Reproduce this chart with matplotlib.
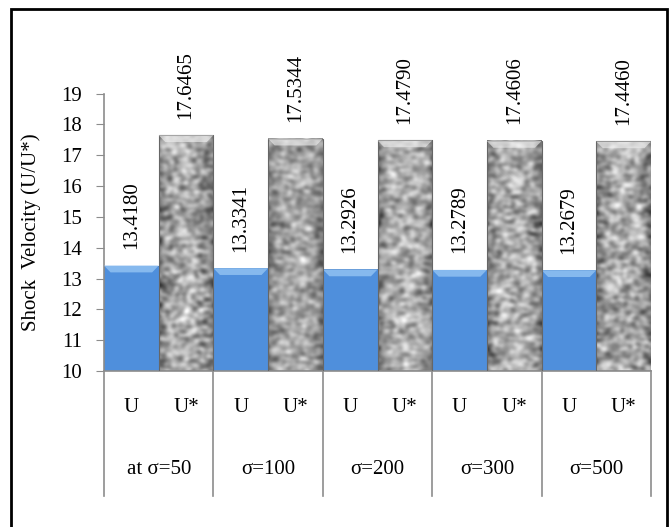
import numpy as np
import matplotlib
matplotlib.use("Agg")
import matplotlib.pyplot as plt
from matplotlib.patches import Rectangle, Polygon
from matplotlib.transforms import blended_transform_factory

plt.rcParams['font.family'] = ['Liberation Serif', 'DejaVu Serif']

# data
groups = ["at σ=50", "σ=100", "σ=200", "σ=300", "σ=500"]
series = ["U", "U*"]
u_vals = [13.4180, 13.3341, 13.2926, 13.2789, 13.2679]
ustar_vals = [17.6465, 17.5344, 17.4790, 17.4606, 17.4460]
y_ticks = [10, 11, 12, 13, 14, 15, 16, 17, 18, 19]

BLUE = "#4f8fdc"
BLUE_TOP = "#86b9ee"
GRID = "#8c8c8c"
FS = 15


def stone_texture(h, w, seed):
    # grey mottled look for the U* bars (decoration only)
    rng = np.random.default_rng(seed)
    t = rng.random((h, w))
    for _ in range(4):
        t = (t + np.roll(t, 1, 0) + np.roll(t, -1, 0) + np.roll(t, 1, 1) + np.roll(t, -1, 1)) / 5
    t = (t - t.min()) / (t.max() - t.min())
    # darker towards the left/right edges
    edge = np.linspace(-1, 1, w)
    t = t - 0.35 * np.abs(edge) ** 4
    return t


fig = plt.figure(figsize=(6.7, 5.27), dpi=100)
ax = fig.add_axes([104 / 670, 156 / 527, 547 / 670, 277.5 / 527])

x = np.arange(len(groups))
w = 0.5
ax.bar(x - w / 2, [v - 10 for v in u_vals], width=w, bottom=10, color=BLUE,
       edgecolor="#3f78bd", linewidth=0.6, zorder=2)

# bevel on top of the blue bars
for xi, v in zip(x, u_vals):
    x0, x1 = xi - w, xi
    bev = 0.22
    ax.add_patch(Polygon([[x0, v], [x1, v], [x1 - 0.06, v - bev], [x0 + 0.06, v - bev]],
                         closed=True, facecolor=BLUE_TOP, edgecolor="none", zorder=3))

# textured U* bars
for i, (xi, v) in enumerate(zip(x, ustar_vals)):
    tex = stone_texture(170, 34, i)
    ax.imshow(tex, extent=(xi, xi + w, 10, v), cmap="gray", vmin=-0.6, vmax=1.0,
              aspect="auto", interpolation="bicubic", zorder=2)
    ax.add_patch(Rectangle((xi, 10), w, v - 10, facecolor="none", edgecolor="#666666",
                           linewidth=0.8, zorder=3))
    ax.add_patch(Polygon([[xi, v], [xi + w, v], [xi + w - 0.06, v - 0.22], [xi + 0.06, v - 0.22]],
                         closed=True, facecolor="#f2f2f2", edgecolor="none", alpha=0.6, zorder=3))

# value labels
for xi, v in zip(x, u_vals):
    ax.annotate(f"{v:.4f}", (xi - w / 2, v), xytext=(0, 12), textcoords="offset points",
                rotation=90, ha="center", va="bottom", fontsize=FS)
for xi, v in zip(x, ustar_vals):
    ax.annotate(f"{v:.4f}", (xi + w / 2, v), xytext=(0, 12), textcoords="offset points",
                rotation=90, ha="center", va="bottom", fontsize=FS)

ax.set_xlim(-0.5, len(groups) - 0.5)
ax.set_ylim(10, 19)
ax.set_yticks(y_ticks)
ax.tick_params(axis="y", direction="out", length=6, color=GRID, labelsize=FS, pad=10)
ax.set_xticks([])
for s in ["top", "right"]:
    ax.spines[s].set_visible(False)
ax.spines["left"].set_color(GRID)
ax.spines["bottom"].set_color(GRID)
ax.spines["left"].set_linewidth(1.2)
ax.spines["bottom"].set_linewidth(1.2)
ax.set_ylabel("Shock  Velocity (U/U*)", fontsize=FS, labelpad=14)

# two-level category axis
trans = blended_transform_factory(ax.transData, ax.transAxes)
for b in np.arange(len(groups) + 1) - 0.5:
    ax.plot([b, b], [0, -0.45], color=GRID, linewidth=1.2, transform=trans, clip_on=False)
for xi, g in zip(x, groups):
    ax.text(xi - w / 2, -0.13, series[0], transform=trans, ha="center", va="center", fontsize=FS)
    ax.text(xi + w / 2, -0.13, series[1], transform=trans, ha="center", va="center", fontsize=FS)
    ax.text(xi, -0.355, g, transform=trans, ha="center", va="center", fontsize=FS)

# outer frame
fig.add_artist(Rectangle((11 / 670, -0.02), 656 / 670, 1 - 9 / 527 + 0.02, transform=fig.transFigure,
                         facecolor="none", edgecolor="black", linewidth=2))

fig.savefig("out.png", dpi=100)
